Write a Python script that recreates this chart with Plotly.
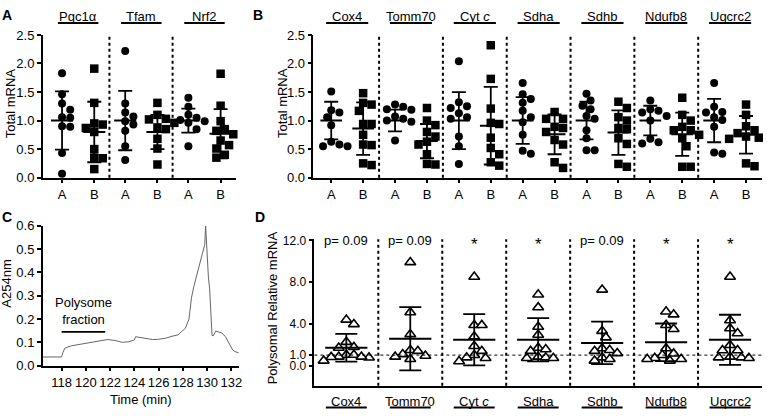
import plotly.graph_objects as go

W, H = 767, 417
FONT = "Liberation Sans, Arial, sans-serif"

# ---------------- DATA ----------------
# Panel A
genes_A = ["Pgc1α", "Tfam", "Nrf2"]
A_vals_grpA = [
    [1.83, 1.46, 1.30, 1.19, 1.06, 1.05, 0.90, 0.89, 0.43, 0.07],
    [2.22, 1.30, 1.14, 1.07, 0.99, 0.93, 0.82, 0.55, 0.31],
    [1.40, 1.24, 1.10, 1.05, 1.01, 0.99, 0.96, 0.85, 0.55],
]
A_vals_grpB = [
    [1.91, 1.31, 0.95, 0.93, 0.87, 0.80, 0.50, 0.35, 0.34, 0.15],
    [1.31, 1.10, 1.03, 1.02, 0.96, 0.88, 0.85, 0.68, 0.51, 0.23],
    [1.82, 1.26, 0.99, 0.85, 0.82, 0.76, 0.65, 0.57, 0.51, 0.40, 0.35],
]
A_mean_grpA = [1.00, 1.00, 1.00]
A_sd_grpA = [0.51, 0.52, 0.21]
A_mean_grpB = [0.80, 0.80, 0.77]
A_sd_grpB = [0.53, 0.30, 0.43]

# Panel B
genes_B = ["Cox4", "Tomm70", "Cyt <i>c</i>", "Sdha", "Sdhb", "Ndufb8", "Uqcrc2"]
B_vals_grpA = [
    [1.51, 1.18, 1.14, 1.06, 0.92, 0.63, 0.58, 0.55, 0.55],
    [1.28, 1.24, 1.20, 1.19, 1.07, 1.03, 1.00, 0.98, 0.65],
    [2.04, 1.32, 1.25, 1.22, 1.13, 1.06, 1.03, 0.72, 0.55, 0.24],
    [1.66, 1.46, 1.38, 1.31, 1.17, 1.06, 0.97, 0.75, 0.47, 0.42],
    [1.47, 1.35, 1.26, 1.20, 1.08, 1.03, 0.83, 0.69, 0.48, 0.48],
    [1.35, 1.20, 1.17, 1.14, 1.08, 1.00, 0.68, 0.62, 0.60],
    [1.66, 1.24, 1.15, 1.14, 1.06, 1.01, 0.89, 0.44, 0.42],
]
B_vals_grpB = [
    [1.48, 1.31, 1.28, 1.17, 0.94, 0.94, 0.75, 0.58, 0.57, 0.25, 0.22],
    [1.22, 1.00, 0.92, 0.80, 0.72, 0.63, 0.58, 0.41, 0.24, 0.23],
    [2.32, 1.73, 1.21, 0.96, 0.94, 0.70, 0.52, 0.41, 0.27, 0.21],
    [1.15, 1.03, 1.03, 0.89, 0.87, 0.80, 0.66, 0.58, 0.27, 0.17],
    [1.33, 1.22, 1.06, 1.00, 0.87, 0.85, 0.69, 0.59, 0.24, 0.19],
    [1.40, 1.10, 1.00, 0.89, 0.83, 0.83, 0.75, 0.69, 0.55, 0.19, 0.19],
    [1.28, 1.10, 0.90, 0.83, 0.78, 0.72, 0.70, 0.68, 0.25, 0.20],
]
B_mean_grpA = [1.00, 1.00, 1.00, 1.00, 1.00, 1.00, 1.00]
B_sd_grpA = [0.33, 0.19, 0.50, 0.41, 0.33, 0.26, 0.38]
B_mean_grpB = [0.86, 0.64, 0.91, 0.76, 0.79, 0.76, 0.75]
B_sd_grpB = [0.46, 0.30, 0.68, 0.35, 0.39, 0.38, 0.33]

# Panel C
time_min = [116.45, 118.0, 118.1, 118.27, 118.8, 119.5, 120.3, 121.1, 121.8, 122.4,
            123.0, 123.5, 123.8, 124.0, 124.1, 124.5, 124.9, 125.5, 126.0, 126.6,
            127.1, 127.6, 127.9, 128.2, 128.5, 128.6, 128.7, 128.9, 129.1, 129.3,
            129.5, 129.7, 129.8, 129.87, 129.95, 130.0, 130.1, 130.2, 130.3, 130.4,
            130.5, 130.7, 130.9, 131.2, 131.5, 131.7, 131.9, 132.1, 132.3, 132.6]
a254 = [0.037, 0.037, 0.055, 0.075, 0.085, 0.092, 0.098, 0.106, 0.112, 0.108,
        0.100, 0.102, 0.108, 0.110, 0.124, 0.120, 0.115, 0.112, 0.113, 0.118,
        0.126, 0.132, 0.147, 0.160, 0.200, 0.250, 0.290, 0.340, 0.380, 0.420,
        0.470, 0.500, 0.520, 0.600, 0.530, 0.440, 0.380, 0.330, 0.250, 0.130,
        0.128, 0.148, 0.145, 0.140, 0.125, 0.106, 0.090, 0.067, 0.060, 0.055]
polysome_range = [118.0, 121.6]
polysome_level = 0.145

# Panel D
genes_D = ["Cox4", "Tomm70", "Cyt <i>c</i>", "Sdha", "Sdhb", "Ndufb8", "Uqcrc2"]
D_vals = [
    [4.39, 3.96, 2.26, 1.76, 1.70, 1.02, 1.02, 0.84, 0.80, 0.76, 0.84, 0.46],
    [9.9, 5.1, 3.0, 1.48, 1.39, 1.08, 0.93, 0.84, 0.62],
    [8.5, 3.87, 3.87, 2.78, 1.86, 1.39, 1.0, 0.77, 0.71, 0.40],
    [6.8, 5.57, 3.71, 2.94, 1.70, 1.55, 1.39, 0.84, 0.77, 0.71, 0.71],
    [7.27, 3.31, 2.69, 1.64, 1.48, 1.39, 1.18, 0.77, 0.62, 0.46],
    [5.17, 4.89, 3.87, 3.49, 1.64, 1.14, 1.0, 0.71, 0.62, 0.62, 0.46],
    [8.5, 4.33, 3.56, 3.09, 1.95, 1.46, 1.46, 0.84, 0.77, 0.77, 0.71],
]
D_mean = [1.70, 2.57, 2.47, 2.47, 2.17, 2.23, 2.47]
D_sd = [1.33, 3.03, 2.45, 2.08, 2.03, 1.80, 2.40]
D_stats = ["p= 0.09", "p= 0.09", "*", "*", "p= 0.09", "*", "*"]


# ---------------- HELPERS ----------------
def fx(p):
    return p / W


def fy(p):
    return 1 - p / H


def swarm(vals, xppu, yppu, d, step=None):
    step = step or d * 0.5
    placed = []
    res = [0.0] * len(vals)
    order = sorted(range(len(vals)), key=lambda i: -vals[i])
    for i in order:
        y = vals[i] * yppu
        k = 0
        while True:
            if k == 0:
                off = 0.0
            else:
                off = ((k + 1) // 2) * step * (1 if k % 2 == 1 else -1)
            if all((off - px) ** 2 + (y - py) ** 2 >= d * d for px, py in placed):
                break
            k += 1
        placed.append((off, y))
        res[i] = off / xppu
    return res


fig = go.Figure()
shapes = []
annos = []
BLACK = "black"
TXT = 13


def add_group(xaxis, yaxis, xc, vals, mean, sd, symbol, msize, xppu, yppu, d,
              mean_half, cap, open_marker=False, step=None):
    offs = swarm(vals, xppu, yppu, d, step)
    fig.add_trace(go.Scatter(
        x=[xc + o for o in offs], y=vals, mode="markers", xaxis=xaxis, yaxis=yaxis,
        marker=dict(symbol=symbol, size=msize,
                    color="white" if open_marker else BLACK,
                    line=dict(color=BLACK, width=1.6 if open_marker else 0)),
        showlegend=False, cliponaxis=False, hoverinfo="skip"))
    fig.add_trace(go.Scatter(
        x=[xc - mean_half, xc + mean_half], y=[mean, mean], mode="lines",
        xaxis=xaxis, yaxis=yaxis, line=dict(color=BLACK, width=2),
        showlegend=False, cliponaxis=False, hoverinfo="skip"))
    fig.add_trace(go.Scatter(
        x=[xc], y=[mean], mode="markers", xaxis=xaxis, yaxis=yaxis,
        marker=dict(size=1, color="rgba(0,0,0,0)"),
        error_y=dict(type="data", array=[sd], color=BLACK, thickness=1.8, width=cap),
        showlegend=False, cliponaxis=False, hoverinfo="skip"))


def txt(text, x, y, xref="paper", yref="paper", size=TXT, angle=0, yshift=0):
    annos.append(dict(x=x, y=y, xref=xref, yref=yref, text=text, textangle=angle,
                      showarrow=False, xanchor="center", yanchor="middle", yshift=yshift,
                      font=dict(size=size, family=FONT, color=BLACK)))


# ---------------- PANEL A ----------------
xA_ppu = (237 - 43) / 3.055
yA_ppu = (177 - 29) / 2.5
for g, gene in enumerate(genes_A):
    add_group("x", "y", g + 0.25, A_vals_grpA[g], A_mean_grpA[g], A_sd_grpA[g],
              "circle", 8, xA_ppu, yA_ppu, 8.2, 0.175, 7)
    add_group("x", "y", g + 0.76, A_vals_grpB[g], A_mean_grpB[g], A_sd_grpB[g],
              "square", 8.5, xA_ppu, yA_ppu, 8.5, 0.175, 7)
    txt(gene, g + 0.505, fy(10), xref="x")
    shapes.append(dict(type="line", xref="x", yref="paper", x0=g + 0.505 - 0.32,
                       x1=g + 0.505 + 0.32, y0=fy(16.5), y1=fy(16.5),
                       line=dict(color=BLACK, width=2)))
    if g > 0:
        shapes.append(dict(type="line", xref="x", yref="y domain", x0=g, x1=g, y0=0, y1=1,
                           line=dict(color=BLACK, width=2, dash="dot")))

# ---------------- PANEL B ----------------
xB_ppu = (766 - 315) / 7.03
for g, gene in enumerate(genes_B):
    add_group("x2", "y2", g + 0.25, B_vals_grpA[g], B_mean_grpA[g], B_sd_grpA[g],
              "circle", 8, xB_ppu, yA_ppu, 8.2, 0.17, 7)
    add_group("x2", "y2", g + 0.75, B_vals_grpB[g], B_mean_grpB[g], B_sd_grpB[g],
              "square", 8.5, xB_ppu, yA_ppu, 8.5, 0.17, 7)
    txt(gene, g + 0.5, fy(10), xref="x2")
    shapes.append(dict(type="line", xref="x2", yref="paper", x0=g + 0.5 - 0.33,
                       x1=g + 0.5 + 0.33, y0=fy(16.5), y1=fy(16.5),
                       line=dict(color=BLACK, width=2)))
    if g > 0:
        shapes.append(dict(type="line", xref="x2", yref="y2 domain", x0=g, x1=g, y0=0, y1=1,
                           line=dict(color=BLACK, width=2, dash="dot")))

# ---------------- PANEL C ----------------
fig.add_trace(go.Scatter(x=time_min, y=a254, mode="lines", xaxis="x3", yaxis="y3",
                         line=dict(color="#666666", width=1), showlegend=False,
                         hoverinfo="skip"))
shapes.append(dict(type="line", xref="x3", yref="y3", x0=polysome_range[0],
                   x1=polysome_range[1], y0=polysome_level, y1=polysome_level,
                   line=dict(color=BLACK, width=1.8)))
annos.append(dict(x=(polysome_range[0] + polysome_range[1]) / 2, y=polysome_level,
                  xref="x3", yref="y3", xanchor="center", yanchor="bottom", yshift=3,
                  text="Polysome<br>fraction", showarrow=False,
                  font=dict(size=TXT, family=FONT, color=BLACK)))

# ---------------- PANEL D ----------------
xD_ppu = (766 - 316) / 7.0
yD_ppu = (393 - 241) / 14.05
for g, gene in enumerate(genes_D):
    add_group("x4", "y4", g + 0.5, D_vals[g], D_mean[g], D_sd[g],
              "triangle-up", 9.5, xD_ppu, yD_ppu, 7.6, 0.33, 11, open_marker=True,
              step=3.8)
    txt(gene, g + 0.5, fy(409), xref="x4")
    shapes.append(dict(type="line", xref="x4", yref="paper", x0=g + 0.5 - 0.32,
                       x1=g + 0.5 + 0.32, y0=fy(415.5), y1=fy(415.5),
                       line=dict(color=BLACK, width=2)))
    star = D_stats[g] == "*"
    txt(D_stats[g], g + 0.5, 12, xref="x4", yref="y4", size=17 if star else TXT,
        yshift=-4 if star else 0)
    if g > 0:
        shapes.append(dict(type="line", xref="x4", yref="y4 domain", x0=g, x1=g, y0=0, y1=1,
                           line=dict(color=BLACK, width=2, dash="dot")))
shapes.append(dict(type="line", xref="x4 domain", yref="y4", x0=0, x1=1, y0=1, y1=1,
                   line=dict(color=BLACK, width=1, dash="dot")))

# ---------------- TEXT: titles & letters ----------------
txt("Total mRNA", fx(10), fy(100), angle=-90)
txt("Total mRNA", fx(284), fy(100), angle=-90)
txt("A254nm", fx(7), fy(287), angle=-90)
txt("Polysomal Relative mRNA", fx(274), fy(312), angle=-90)
txt("Time (min)", fx(142), fy(407))
for t, x, y in [("A", 7, 8), ("B", 259, 8), ("C", 7, 218), ("D", 261, 218)]:
    txt("<b>%s</b>" % t, fx(x), fy(y), size=14)

tickfont = dict(size=TXT, family=FONT, color=BLACK)
axcommon = dict(showgrid=False, zeroline=False, showline=True, linecolor=BLACK,
                linewidth=1.5, ticks="outside", ticklen=4, tickwidth=1.5,
                tickcolor=BLACK, tickfont=tickfont)
axD = dict(axcommon)
axD["tickfont"] = dict(size=12, family=FONT, color=BLACK)

fig.update_layout(
    width=W, height=H, margin=dict(l=0, r=0, t=0, b=0),
    paper_bgcolor="white", plot_bgcolor="white", showlegend=False,
    font=dict(family=FONT, color=BLACK),
    xaxis=dict(domain=[fx(43), fx(237)], range=[-0.055, 3.0], anchor="y",
               tickvals=[g + o for g in range(3) for o in (0.25, 0.76)],
               ticktext=["A", "B"] * 3, **axcommon),
    yaxis=dict(domain=[fy(177), fy(29)], range=[0, 2.5], anchor="x",
               tickvals=[0, 0.5, 1.0, 1.5, 2.0, 2.5], tickformat=".1f", **axcommon),
    xaxis2=dict(domain=[fx(315), fx(766)], range=[-0.03, 7.0], anchor="y2",
                tickvals=[g + o for g in range(7) for o in (0.25, 0.75)],
                ticktext=["A", "B"] * 7, **axcommon),
    yaxis2=dict(domain=[fy(177), fy(29)], range=[0, 2.5], anchor="x2",
                tickvals=[0, 0.5, 1.0, 1.5, 2.0, 2.5], tickformat=".1f", **axcommon),
    xaxis3=dict(domain=[fx(43), fx(240)], range=[116.45, 132.6], anchor="y3",
                tickvals=list(range(118, 133, 2)), **axcommon),
    yaxis3=dict(domain=[fy(372), fy(227)], range=[0, 0.6], anchor="x3",
                tickvals=[0, 0.1, 0.2, 0.3, 0.4, 0.5, 0.6], tickformat=".1f", **axcommon),
    xaxis4=dict(domain=[fx(316), fx(766)], range=[0, 7], anchor="y4",
                showticklabels=False, showgrid=False, zeroline=False, showline=True,
                linecolor=BLACK, linewidth=1.5, ticks=""),
    yaxis4=dict(domain=[fy(393), fy(241)], range=[-1.95, 12.1], anchor="x4",
                tickvals=[0, 1, 4, 8, 12], tickformat=".1f", **axD),
    shapes=shapes, annotations=annos,
)

fig.write_html("out.html", config={"displayModeBar": False},
               post_script="document.body.style.margin='0';")
